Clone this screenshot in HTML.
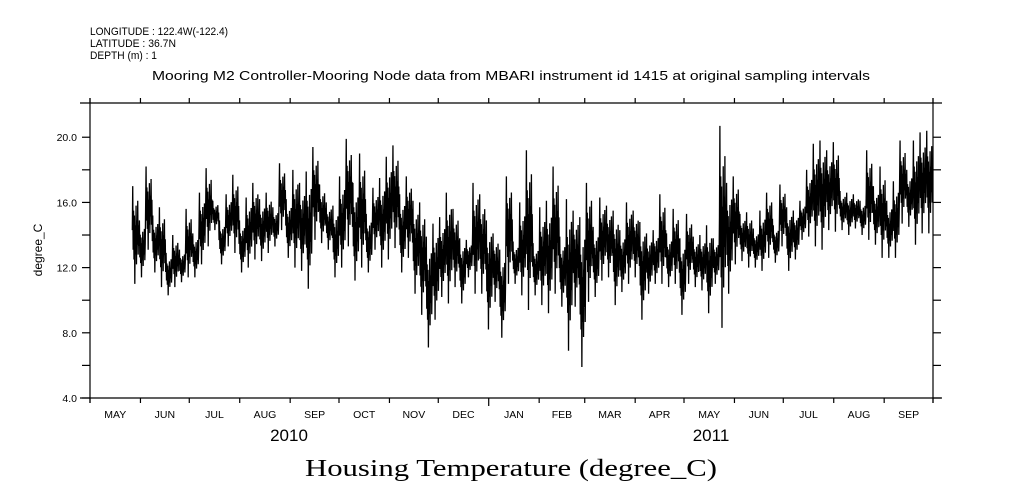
<!DOCTYPE html>
<html><head><meta charset="utf-8">
<style>
html,body{margin:0;padding:0;background:#fff;}
svg{display:block;}
text{font-family:"Liberation Sans",sans-serif;fill:#000;}
</style></head>
<body>
<svg id="chart" width="1009" height="504" viewBox="0 0 1009 504" xmlns="http://www.w3.org/2000/svg">
  <g font-size="11">
    <text x="90" y="35" textLength="138" lengthAdjust="spacingAndGlyphs">LONGITUDE : 122.4W(-122.4)</text>
    <text x="90" y="47" textLength="86" lengthAdjust="spacingAndGlyphs">LATITUDE : 36.7N</text>
    <text x="90" y="59" textLength="67" lengthAdjust="spacingAndGlyphs">DEPTH (m) : 1</text>
  </g>
  <text x="152" y="80" font-size="13" textLength="718" lengthAdjust="spacingAndGlyphs">Mooring M2 Controller-Mooring Node data from MBARI instrument id 1415 at original sampling intervals</text>
  <g id="axes"></g>
  <g id="series"></g>
  <text x="0" y="0" font-size="12" text-anchor="middle" transform="translate(42,250) rotate(-90)">degree_C</text>
  <text x="289" y="441" font-size="17" text-anchor="middle">2010</text>
  <text x="711" y="441" font-size="17" text-anchor="middle">2011</text>
  <text x="305" y="476" font-size="24" textLength="412" lengthAdjust="spacingAndGlyphs" style="font-family:'Liberation Serif',serif">Housing Temperature (degree_C)</text>
</svg>
<script>
// ---- data ----
const yTicks = [4, 6, 8, 10, 12, 14, 16, 18, 20];
const yTickLabels = ["4.0", "", "8.0", "", "12.0", "", "16.0", "", "20.0"];
const monthStartDays = [0, 31, 61, 92, 123, 153, 184, 214, 245, 276, 304, 335, 365, 396, 426, 457, 488, 518];
const monthLabels = ["MAY","JUN","JUL","AUG","SEP","OCT","NOV","DEC","JAN","FEB","MAR","APR","MAY","JUN","JUL","AUG","SEP"];
const seriesStartDay = 26;
const binDays = 4.1;
const binHigh = [17.0,14.9,18.2,15.2,15.7,12.9,14.0,13.1,15.6,14.1,16.6,18.1,16.1,14.9,16.5,17.7,14.9,16.3,17.2,16.2,16.6,15.7,18.4,16.2,18.0,17.2,17.9,19.4,17.1,16.0,15.8,17.6,19.9,17.2,19.0,15.3,16.9,
 17.5,18.8,19.5,16.5,17.6,16.1,16.0,13.9,14.7,15.1,16.6,15.6,13.8,13.7,17.2,16.5,14.9,14.1,13.1,17.6,13.6,16.0,19.2,13.5,15.7,16.1,18.2,13.9,16.2,15.5,15.1,17.2,14.5,16.3,15.8,15.5,14.3,16.0,15.5,14.8,14.1,14.3,
 16.5,14.1,15.6,13.8,15.3,13.9,14.0,14.6,13.8,20.7,17.2,17.6,15.3,15.4,14.4,15.5,16.6,14.6,17.1,15.7,15.5,16.1,18.0,19.6,19.8,19.2,19.7,16.7,16.6,16.5,16.1,19.2,17.0,18.2,16.1,17.3,19.8,18.0,19.8,20.3,20.4];
const binLow = [11.0,11.4,13.1,11.7,10.8,10.3,10.8,11.1,11.4,11.4,12.2,13.3,14.3,12.2,13.3,12.9,11.7,12.0,12.5,12.4,12.9,13.3,14.3,12.6,12.0,11.8,10.7,13.7,13.5,13.1,11.4,12.0,13.3,11.2,12.0,11.7,13.1,
 12.0,12.5,13.2,11.7,12.6,10.4,9.1,7.1,8.8,10.2,9.8,10.8,9.8,11.4,10.4,10.4,8.2,9.9,7.7,11.0,11.0,10.3,9.4,10.3,9.7,9.2,10.4,9.6,6.9,9.6,5.9,9.9,10.2,11.2,11.4,9.7,10.5,11.0,11.4,8.8,10.4,11.0,
 11.0,10.8,11.0,9.1,11.0,10.8,10.6,9.2,11.0,8.3,10.4,12.2,12.4,12.0,12.0,11.8,12.6,12.3,13.3,11.8,12.5,13.7,13.9,13.3,13.1,14.3,14.2,14.3,14.0,14.4,14.0,13.7,13.4,12.6,12.6,12.6,14.7,14.5,13.4,14.1,14.1];

// ---- scales ----
const X0 = 90, X1 = 933, Y0 = 398, Y1 = 103;
const DAY_SPAN = 518;
const xScale = d => X0 + d * (X1 - X0) / DAY_SPAN;
const yMin = 4, yMax = 22.1;
const yScale = v => Y0 - (v - yMin) * (Y0 - Y1) / (yMax - yMin);
const NS = "http://www.w3.org/2000/svg";
function mk(tag, attrs, parent) {
  const el = document.createElementNS(NS, tag);
  for (const k in attrs) el.setAttribute(k, attrs[k]);
  parent.appendChild(el);
  return el;
}
const axes = document.getElementById('axes');
let e;
e = mk('line', {x1: 80, y1: Y1, x2: 942, y2: Y1, stroke: '#000', 'stroke-width': 1.2}, axes);
 
e = mk('line', {x1: 80, y1: Y0, x2: 942, y2: Y0, stroke: '#000', 'stroke-width': 1.2}, axes);
 
e = mk('line', {x1: X0, y1: 98, x2: X0, y2: 403, stroke: '#000', 'stroke-width': 1.2}, axes);
 
e = mk('line', {x1: X1, y1: 98, x2: X1, y2: 403, stroke: '#000', 'stroke-width': 1.2}, axes);
 
yTicks.forEach((v, i) => {
  const y = yScale(v);
  let t = mk('line', {x1: 82, y1: y, x2: X0, y2: y, stroke: '#000', 'stroke-width': 1.2}, axes);
  
  
  t = mk('line', {x1: X1, y1: y, x2: 941, y2: y, stroke: '#000', 'stroke-width': 1.2}, axes);
  
  
  if (yTickLabels[i]) {
    const lb = mk('text', {x: 77, y: y + 4, 'font-size': 10.5, 'text-anchor': 'end'}, axes);
    lb.textContent = yTickLabels[i];
    
    
  }
});
monthStartDays.forEach((d, i) => {
  const x = xScale(d);
  const long = (i === 8);
  let t = mk('line', {x1: x, y1: Y0, x2: x, y2: Y0 + (long ? 8 : 5), stroke: '#000', 'stroke-width': 1.2}, axes);
  
  
  t = mk('line', {x1: x, y1: Y1, x2: x, y2: Y1 - 5, stroke: '#000', 'stroke-width': 1.2}, axes);
  
  
  if (i < monthLabels.length) {
    const mid = (d + monthStartDays[i + 1]) / 2;
    const lb = mk('text', {x: xScale(mid), y: 418, 'font-size': 10.5, 'text-anchor': 'middle'}, axes);
    lb.textContent = monthLabels[i];
    
    
  }
});
// series: dense oscillation inside each bin's range
const series = document.getElementById('series');
const pts = [];
const frac = [0.55, 1.0, 0.35, 0.75, 0.25, 0.7, 0.0, 0.6, 0.3, 0.8, 0.2, 0.65, 0.4, 0.85, 0.3, 0.6];
binHigh.forEach((hi, i) => {
  const lo = binLow[i];
  const d0 = seriesStartDay + i * binDays;
  const step = binDays / frac.length;
  frac.forEach((f, k) => {
    const v = lo + (hi - lo) * f;
    pts.push(xScale(d0 + k * step).toFixed(2) + ',' + yScale(v).toFixed(2));
  });
});
const line = mk('polyline', {points: pts.join(' '), fill: 'none', stroke: '#000', 'stroke-width': 1.3, 'stroke-linejoin': 'miter'}, series);


</script>
</body></html>
